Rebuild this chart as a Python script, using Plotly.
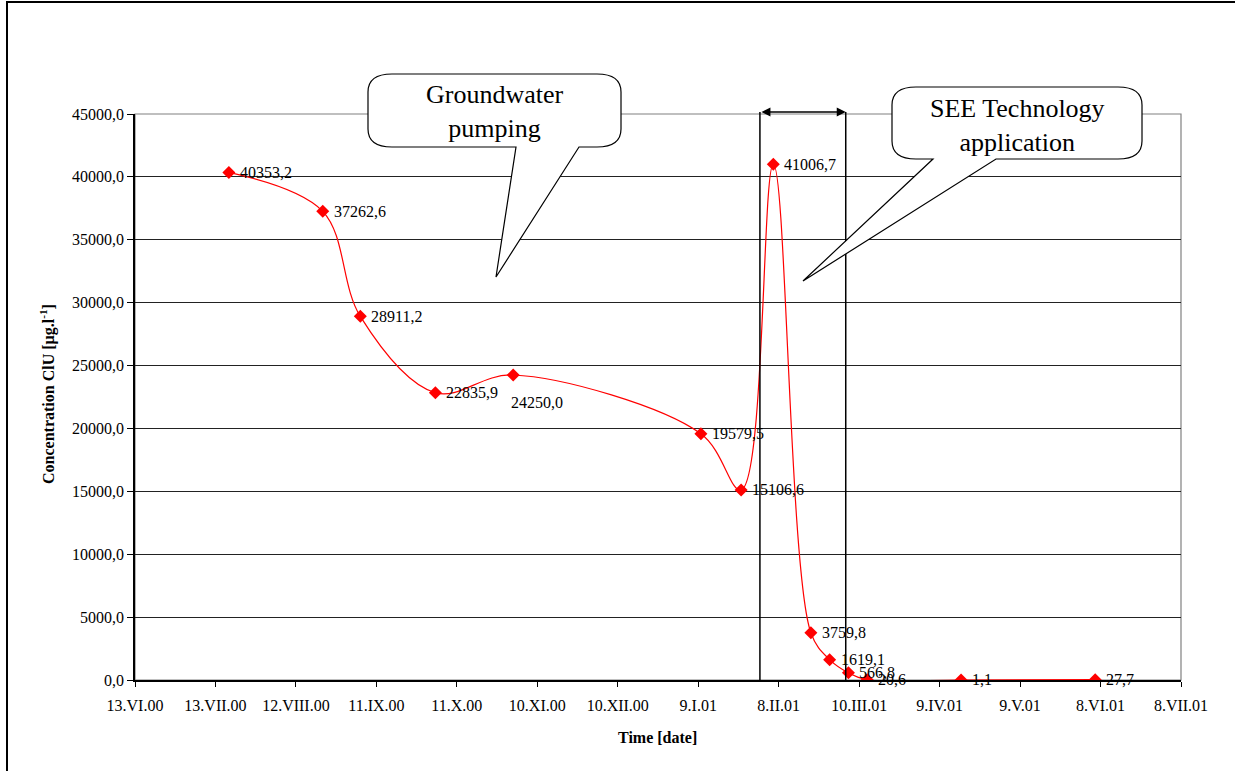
import plotly.graph_objects as go

# Sampling dates and measured ClU concentrations [µg/l]
sample_dates = ["2000-07-18", "2000-08-22", "2000-09-05", "2000-10-03", "2000-11-01",
                "2001-01-10", "2001-01-25", "2001-02-06", "2001-02-20", "2001-02-27",
                "2001-03-06", "2001-03-13", "2001-04-17", "2001-06-06"]
concentration = [40353.2, 37262.6, 28911.2, 22835.9, 24250.0,
                 19579.5, 15106.6, 41006.7, 3759.8, 1619.1,
                 566.8, 20.6, 1.1, 27.7]

# Axis ticks (30-day steps)
tick_dates = ["2000-06-13", "2000-07-13", "2000-08-12", "2000-09-11", "2000-10-11",
              "2000-11-10", "2000-12-10", "2001-01-09", "2001-02-08", "2001-03-10",
              "2001-04-09", "2001-05-09", "2001-06-08", "2001-07-08"]
tick_labels = ["13.VI.00", "13.VII.00", "12.VIII.00", "11.IX.00", "11.X.00",
               "10.XI.00", "10.XII.00", "9.I.01", "8.II.01", "10.III.01",
               "9.IV.01", "9.V.01", "8.VI.01", "8.VII.01"]
y_ticks = [0, 5000, 10000, 15000, 20000, 25000, 30000, 35000, 40000, 45000]
y_tick_labels = [f"{v:.1f}".replace(".", ",") for v in y_ticks]

# Period of the SEE technology application
see_period = ["2001-02-01", "2001-03-05"]

FONT = "'Liberation Serif', 'Times New Roman', serif"
W, H = 1235, 771
L, R, T, B = 135, 1181, 114, 680


def px(x):
    return (x - L) / (R - L)


def py(y):
    return (B - y) / (B - T)


def callout(x0, y0, x1, y1, bx0, bx1, tx, ty, rx=24, ry=18):
    pts = [
        ("M", (x0 + rx, y0)), ("L", (x1 - rx, y0)),
        ("Q", (x1, y0), (x1, y0 + ry)), ("L", (x1, y1 - ry)),
        ("Q", (x1, y1), (x1 - rx, y1)), ("L", (bx1, y1)),
        ("L", (tx, ty)), ("L", (bx0, y1)), ("L", (x0 + rx, y1)),
        ("Q", (x0, y1), (x0, y1 - ry)), ("L", (x0, y0 + ry)),
        ("Q", (x0, y0), (x0 + rx, y0)),
    ]
    out = []
    for p in pts:
        cmd = p[0]
        coords = " ".join(f"{px(a):.5f},{py(b):.5f}" for a, b in p[1:])
        out.append(f"{cmd}{coords}")
    return " ".join(out) + " Z"


fig = go.Figure()
fig.add_trace(go.Scatter(
    x=sample_dates, y=concentration,
    mode="lines+markers",
    line=dict(color="#ff0000", width=1.2, shape="spline", smoothing=1.0),
    marker=dict(symbol="diamond", size=10, color="#ff0000"),
    hoverinfo="x+y", showlegend=False,
))

annotations = []
# value labels next to the markers
for d, v in zip(sample_dates, concentration):
    lab = f"{v:.1f}".replace(".", ",")
    xs, ys = 9, 0
    if v == 24250.0:
        xs, ys = -4, -28
    annotations.append(dict(
        x=d, y=v, xref="x", yref="y", text=lab, showarrow=False,
        xanchor="left", yanchor="middle", xshift=xs, yshift=ys,
        font=dict(family=FONT, size=16, color="black"),
    ))

# axis titles
annotations.append(dict(
    x=px(657), y=py(737), xref="paper", yref="paper",
    xanchor="center", yanchor="middle",
    text="<b>Time [date]</b>", showarrow=False,
    font=dict(family=FONT, size=16, color="black"),
))
annotations.append(dict(
    x=px(47), y=py(394), xref="paper", yref="paper",
    xanchor="center", yanchor="middle",
    text="<b>Concentration ClU [µg.l<sup>-1</sup>]</b>", showarrow=False,
    textangle=-90, font=dict(family=FONT, size=16, color="black"),
))

# callout texts
annotations.append(dict(
    x=px(495), y=py(112), xref="paper", yref="paper",
    xanchor="center", yanchor="middle",
    text="Groundwater<br>pumping", showarrow=False,
    font=dict(family=FONT, size=26, color="black"),
))
annotations.append(dict(
    x=px(1017), y=py(125), xref="paper", yref="paper",
    xanchor="center", yanchor="middle",
    text="SEE Technology<br>application", showarrow=False,
    font=dict(family=FONT, size=26, color="black"),
))

# double arrow spanning the SEE period
annotations.append(dict(
    x=see_period[1], y=py(112), xref="x", yref="paper",
    ax=see_period[0], ay=0, axref="x", ayref="pixel",
    text="", showarrow=True, arrowhead=2, startarrowhead=2,
    arrowside="end+start", arrowsize=1.2, arrowwidth=1.5,
    arrowcolor="black", startstandoff=0, standoff=0,
))

shapes = [
    # plot frame (grey)
    dict(type="rect", xref="paper", yref="paper", x0=0, y0=0, x1=1, y1=1,
         line=dict(color="#808080", width=1.2), layer="below"),
    # outer chart frame
    dict(type="rect", xref="paper", yref="paper",
         x0=px(7), y0=py(778), x1=px(1245), y1=py(2),
         line=dict(color="black", width=2), layer="above"),
]
for d in see_period:
    shapes.append(dict(type="line", xref="x", yref="paper", x0=d, x1=d,
                       y0=0, y1=py(112), line=dict(color="black", width=1.5),
                       layer="above"))
shapes.append(dict(type="path", xref="paper", yref="paper",
                   path=callout(368, 74, 621, 147, 516, 579, 496, 277),
                   fillcolor="white", line=dict(color="black", width=1.2),
                   layer="above"))
shapes.append(dict(type="path", xref="paper", yref="paper",
                   path=callout(892, 87, 1142, 159, 933, 996, 803, 281),
                   fillcolor="white", line=dict(color="black", width=1.2),
                   layer="above"))

fig.update_layout(
    width=W, height=H, autosize=False,
    margin=dict(l=L, r=W - R, t=T, b=H - B, pad=0),
    paper_bgcolor="white", plot_bgcolor="white",
    font=dict(family=FONT, size=16, color="black"),
    annotations=annotations, shapes=shapes,
    xaxis=dict(
        type="date", range=[tick_dates[0], tick_dates[-1]],
        tickvals=tick_dates, ticktext=tick_labels,
        showgrid=False, zeroline=False,
        showline=True, linecolor="black", linewidth=1.5,
        ticks="outside", ticklen=5, tickcolor="black", tickwidth=1,
        ticklabelstandoff=5,
        tickfont=dict(family=FONT, size=16, color="black"),
    ),
    yaxis=dict(
        range=[0, 45000], tickvals=y_ticks, ticktext=y_tick_labels,
        showgrid=True, gridcolor="#222222", gridwidth=1, zeroline=False,
        showline=True, linecolor="black", linewidth=1.5,
        ticks="outside", ticklen=6, tickcolor="black", tickwidth=1,
        tickfont=dict(family=FONT, size=16, color="black"),
    ),
)

fig.write_html("out.html")
